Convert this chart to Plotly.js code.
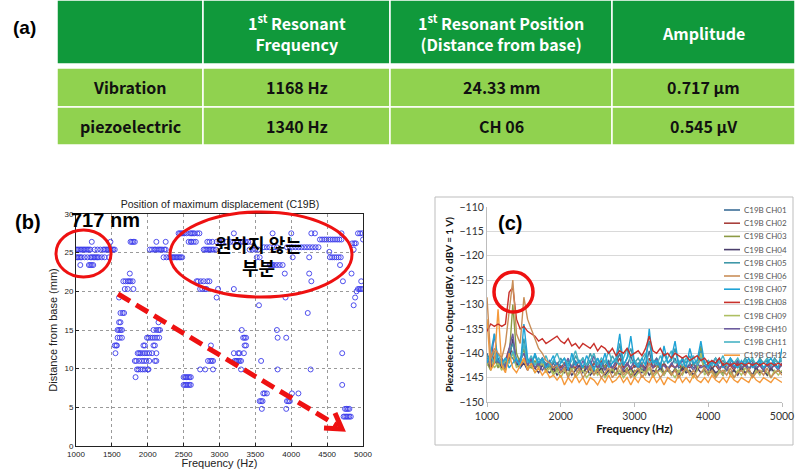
<!DOCTYPE html>
<html><head><meta charset="utf-8">
<script src="https://cdn.plot.ly/plotly-3.0.1.min.js"></script>
<style>html,body{margin:0;padding:0;background:#fff}#chart{width:797px;height:469px}</style>
</head><body><div id="chart"></div>
<script>
// ---------- (a) table values ----------
const tableHeader = ['', '1<sup>st</sup> Resonant<br>Frequency', '1<sup>st</sup> Resonant Position<br>(Distance from base)', 'Amplitude'];
const rowLabels = ['Vibration', 'piezoelectric'];
const resonantFreq = ['1168 Hz', '1340 Hz'];
const resonantPos = ['24.33 mm', 'CH 06'];
const amplitude = ['0.717 \u00b5m', '0.545 \u00b5V'];

// ---------- (b) scatter values: distance level -> frequencies ----------
const distLevelsB = [25.4, 24.4, 23.4, 26.4, 27.5, 25.7, 26.7, 25.1, 26.2, 22.3, 21.3, 20.3, 20.0, 19.2, 18.2, 17.2, 16.0, 15.0, 14.0, 13.0, 12.0, 11.0, 9.9, 8.9, 7.9, 6.8, 5.8, 4.8, 3.8];
const freqsB = [
  [1000,1020,1040,1060,1080,1100,1120,1140,1160,1180,1200,1260,1300,1340,1380,1400,1420,1440,1460,1480,1500,1520,1540,2030,2060,2090,2110,2140,2160,2180,2200,2230,2250,2780,2800,2820,2840,2860,2880,2900,2920,2950,3420,3460,3500,3540,4870],
  [1000,1020,1040,1060,1080,1120,1160,1200,1220,1240,1260,1280,1300,1320,1360,1400,1460,2220,2260,2300,2320,2340,2360,2380,2400,2420,2440,2460,2480,3520,3560,4020,4250,4540,4570,4600,4630,4660,4690],
  [1060,1180,1200,1220,1240,3700,3720,3740,3760,3800,3840,3880,4680],
  [1220,1480,1760,1780,1800,1820,2120,2250,2570,2600,2610,2640,2670,2830,2860,2900,2960,3000,3040,3100,3150,3190,3240,3260,3300,3330,3360,3400,3440],
  [2430,2450,2470,2490,2510,2540,2590,2610,2630,2650,2690,2720,3200,3740,4000,4280,4330,4700,4930,4960,4990],
  [3620,3660,3700,3760,3800,3940,3980,4020,4060,4100,4140,4180,4220,4260,4300,4340,4380],
  [4400,4430,4460,4490,4520,4550,4580,4610,4640,4670,4700,5000],
  [4530],
  [4850,4880,4900],
  [1750,3910,4250,4840],
  [1660,1690,1720,1740,1760,1790,2680,2700,2740,2780,2830,2860,4280,4720,4975],
  [1680,1720,1800,2730,2760,2800,2820,2980,3200,4930,4950,4970,4990],
  [4910],
  [1600,2960,3920,4890],
  [3550,4870],
  [1620,1650,1670,4230],
  [1600,1620,2150],
  [1580,1600,1620,1640,2080,2120,2150,2170,3310,3800],
  [1580,1610,1640,1990,2010,2040,2070,2100,2130,2160,3330,3350,3370,3810,3930],
  [1540,1560,1570,1940,1960,2080,2100,2880,3350,3370],
  [1550,1860,1880,1900,1930,1960,1990,2020,2060,2120,3200,3260,3280,3340,4710],
  [1820,1840,1880,1920,1950,1980,2020,2100,2120,2840,2870,2890,2910,3210,3230,3240,3260,3280,3300,3580],
  [1850,1870,1900,1930,1960,2000,2010,2730,2800,2910,3300,3810,4270],
  [1830,2500,2520,2540,2560,2580,2600],
  [2500,2520,2540,2560,2580,2600,4710],
  [3610,3630,3660,4010,4100],
  [3560,3580,3600,3940,3960,3980],
  [3590,3930,4750,4770,4790,4810],
  [4730,4750,4770,4790,4810,4830]
];

// ---------- (c) piezoelectric spectra ----------
const freqC = [1000,1050,1100,1150,1200,1250,1300,1350,1400,1450,1500,1550,1600,1650,1700,1750,1800,1850,1900,1950,
  2000,2050,2100,2150,2200,2250,2300,2350,2400,2450,2500,2550,2600,2650,2700,2750,2800,2850,2900,2950,
  3000,3050,3100,3150,3200,3250,3300,3350,3400,3450,3500,3550,3600,3650,3700,3750,3800,3850,3900,3950,
  4000,4050,4100,4150,4200,4250,4300,4350,4400,4450,4500,4550,4600,4650,4700,4750,4800,4850,4900,4950,5000];
const legendNames = ['C19B CH01','C19B CH02','C19B CH03','C19B CH04','C19B CH05','C19B CH06','C19B CH07','C19B CH08','C19B CH09','C19B CH10','C19B CH11','C19B CH12'];
const seriesColors = ['#3c6f98','#a8403c','#8c9a44','#4a3e6c','#3f98a8','#c98e58','#1fa3d6','#c8302a','#aebf62','#6c5c9e','#47b3c4','#f59a3c'];
const ch01 = [-140,-142,-141,-142.5,-141.5,-142,-140.5,-141,-142.5,-141,-140,-142,-141.5,-143,-142,-141,-142.5,-143,-142,-143.5,-142.5,-143.5,-142,-143,-141.5,-143.5,-142.5,-143,-141.5,-143,-142,-143.5,-142.5,-141.5,-143,-142,-140,-143,-142.5,-140.5,-143,-142,-143.5,-142.5,-139.5,-143,-142,-143.5,-142,-143,-142.5,-141,-143,-142.5,-143.5,-142,-143,-142.5,-141,-143,-142.5,-143.5,-142,-143,-142.5,-143.5,-142,-143,-142.5,-143.5,-142,-143,-142.5,-143.5,-142,-143,-142.5,-143.5,-142,-143,-142.5];
const ch02 = [-141,-143,-140.5,-142,-143,-141.5,-139,-140,-142,-143,-141,-142.5,-141,-143,-142.5,-141,-143,-142,-143.5,-142,-143,-142,-143.5,-142.5,-143,-141.5,-143,-142.5,-143.5,-142,-143,-141.5,-143,-142,-143.5,-142.5,-141,-143,-142,-143.5,-142.5,-143,-142,-143.5,-141,-143,-142.5,-143,-142,-143.5,-142.5,-143,-142,-143.5,-142.5,-143,-142,-143.5,-142.5,-143,-142,-143,-142.5,-143.5,-142,-143,-142.5,-143.5,-142,-143,-142.5,-143.5,-142,-143,-142.5,-143.5,-142,-143,-142.5,-143,-142];
const ch03 = [-142,-143.5,-141,-143,-142,-143.5,-141,-130,-140,-142,-139,-142.5,-143,-141.5,-143,-142,-143.5,-142.5,-144,-143,-144,-143,-144.5,-142.5,-143.5,-144,-142.5,-144,-143,-144.5,-143,-144,-142.5,-144,-143.5,-144.5,-142,-144,-143,-144.5,-143.5,-144,-142.5,-144,-143,-144.5,-143,-142,-144,-143.5,-144.5,-143,-144,-142.5,-144,-143.5,-144.5,-143,-138.5,-143.5,-144,-143,-144.5,-143.5,-144,-143,-144.5,-143.5,-144,-142.5,-144,-143.5,-144.5,-143,-144,-143.5,-144.5,-143,-144,-143.5,-144];
const ch04 = [-141.5,-143,-142,-141,-143,-142,-141.5,-137,-142,-143,-142,-143.5,-142,-143,-144,-142.5,-143.5,-144,-143,-144.5,-143.5,-144,-143,-144.5,-143.5,-142.5,-144,-143,-144.5,-143.5,-144,-143,-144.5,-143.5,-144,-143,-144.5,-143.5,-144,-143,-144.5,-143.5,-144,-143,-144.5,-143.5,-144,-143,-144.5,-143,-144,-143.5,-144.5,-143,-144,-143.5,-144.5,-143,-144,-143.5,-144.5,-143,-144,-143.5,-144.5,-143,-144,-143.5,-144.5,-143,-144,-143.5,-144.5,-143,-144,-143.5,-144.5,-143,-144,-143.5,-144];
const ch05 = [-140.5,-142,-139.5,-142.5,-141,-142.5,-140,-138,-141.5,-142,-137,-141.5,-142,-140.5,-142.5,-141.5,-142,-143,-141.5,-142.5,-141,-142.5,-141.5,-143,-140.5,-142,-141,-142.5,-140,-142,-141,-143,-141.5,-142.5,-140.5,-142,-138,-142.5,-141,-139,-142,-141,-142.5,-140.5,-137.5,-142,-141,-142.5,-140,-142,-141.5,-139,-142.5,-141,-142,-140.5,-142.5,-141.5,-139.5,-142,-141.5,-142.5,-141,-142,-141.5,-142.5,-141,-142,-141.5,-142.5,-141,-142,-141.5,-142.5,-141,-142,-141.5,-142.5,-141,-142,-141.5];
const ch06 = [-128.5,-141,-139,-140,-141,-138,-132,-125,-136,-138,-128.5,-133,-135,-137,-139,-140,-141.5,-142,-143,-142.5,-144,-143,-145,-143.5,-144.5,-143,-145,-144,-142.5,-144.5,-143.5,-145,-144,-143,-145,-144,-142.5,-144.5,-143.5,-145,-144,-143,-145,-144,-142,-144.5,-143.5,-145,-144,-143,-144.5,-143.5,-145,-144,-143,-144.5,-143.5,-145,-144,-143,-144.5,-143.5,-145,-144,-143.5,-144.5,-143,-145,-144,-143.5,-144.5,-143,-145,-144,-143.5,-144.5,-143,-145,-144,-143.5,-144.5];
const ch07 = [-142,-140,-136,-141.5,-142,-141,-143,-142,-141,-143,-134,-141,-142.5,-140,-142,-141,-143,-142,-140.5,-143,-142,-141,-143.5,-140,-142.5,-141.5,-143,-140.5,-142,-143.5,-141,-142.5,-140,-143,-142,-141,-136,-142.5,-141,-136.5,-142,-143,-141,-142.5,-135,-142,-141.5,-143,-138.5,-142,-141,-137.5,-142.5,-141,-143,-139,-142,-141.5,-137.5,-142,-143,-141.5,-142.5,-141,-143,-142,-141,-142.5,-143,-141.5,-142.5,-141,-143,-142,-141.5,-143,-142,-141,-142.5,-143,-139];
const ch08 = [-135.5,-134,-134.5,-134,-134.5,-134,-127.5,-126.5,-133,-135,-134.5,-135.5,-136,-136.5,-137.5,-137,-138,-137.5,-137,-136.5,-137.5,-138,-137,-138.5,-138,-139,-138,-138.5,-139,-138,-139.5,-138.5,-139,-140,-139,-140.5,-139.5,-140,-139,-140.5,-140,-139.5,-140.5,-139,-136.5,-139.5,-140,-139,-140.5,-140,-141,-140,-140.5,-141,-140.5,-141.5,-141,-140.5,-141.5,-141,-142,-141.5,-142,-141,-142.5,-142,-142.5,-142,-142.5,-142,-142.5,-142,-142.5,-142,-142.5,-142,-142.5,-142,-142.5,-142,-142.5];
const ch09 = [-142.5,-141,-143,-142,-143.5,-141.5,-142,-140,-143,-142,-141.5,-143,-142.5,-144,-143,-142,-144,-143,-144.5,-143.5,-145,-143.5,-144.5,-143,-145,-144,-143.5,-145,-144,-143,-144.5,-143.5,-145,-144,-143,-144.5,-143.5,-145,-144,-143.5,-145,-144,-143.5,-144.5,-143,-145,-144,-143.5,-144.5,-143,-144,-145,-143.5,-144.5,-143,-144,-145,-143.5,-140,-144.5,-143.5,-144,-145,-143.5,-144.5,-143,-144,-145,-143.5,-144.5,-143,-144,-145,-143.5,-144.5,-143,-144,-145,-143.5,-144.5,-143.5];
const ch10 = [-141,-142.5,-136,-142,-141,-143,-139,-136,-142,-141.5,-140,-142.5,-141,-143,-142,-143.5,-142.5,-141.5,-143,-142,-143.5,-142.5,-141,-143,-142,-143.5,-141.5,-143,-142.5,-140.5,-143,-142,-143.5,-142,-143,-141.5,-142.5,-143.5,-142,-143,-141.5,-143,-142.5,-143.5,-142,-143,-141,-143,-142.5,-143.5,-142,-143,-142.5,-141.5,-143,-142.5,-143.5,-142,-143,-142.5,-143.5,-142,-141,-143,-142.5,-143.5,-142,-143,-141.5,-143,-142.5,-143.5,-142,-143,-142.5,-143.5,-142,-143,-142.5,-143.5,-142];
const ch11 = [-141.5,-140.5,-142,-140,-142.5,-141,-142,-139.5,-141.5,-142.5,-138,-142,-140.5,-142.5,-141,-142,-140.5,-142.5,-141.5,-140,-142,-141,-142.5,-141.5,-139.5,-142,-141,-142.5,-141.5,-140,-142.5,-141,-142,-139.5,-142,-141.5,-142.5,-141,-139,-142,-141.5,-142.5,-141,-140,-142,-141.5,-142.5,-140.5,-142,-141,-139.5,-142,-141.5,-142.5,-141,-142,-140.5,-142.5,-141,-142,-141.5,-142.5,-141,-142,-140.5,-142.5,-141.5,-142,-141,-142.5,-141.5,-142,-141,-142.5,-141.5,-142,-141,-142.5,-141.5,-142,-141];
const ch12 = [-133,-143.5,-142,-131,-142.5,-144,-140,-143,-144,-142.5,-141,-143.5,-142,-144,-143,-144.5,-143.5,-145,-144.5,-145.5,-144.5,-146.5,-145,-146,-144.5,-146,-145,-146.5,-145,-145.5,-146.5,-145,-146,-144.5,-146,-145.5,-144.5,-146,-145,-146.5,-145,-146,-144.5,-145.5,-146,-144.5,-146,-145,-146.5,-145,-145.5,-146,-144.5,-146,-145,-146,-144.5,-145.5,-146,-145,-146,-144.5,-145.5,-146,-145,-146,-144.5,-145.5,-146,-145,-145.5,-146,-144.5,-145.5,-146,-145,-145.5,-146,-145,-145.5,-146];
const seriesC = [ch01,ch02,ch03,ch04,ch05,ch06,ch07,ch08,ch09,ch10,ch11,ch12];

// ---------- helpers (pixel -> paper) ----------
const W = 797, H = 469;
const px = x => x / W;
const py = y => 1 - y / H;

// ---------- traces ----------
const bx = [], by = [];
distLevelsB.forEach((d, i) => freqsB[i].forEach(f => { bx.push(f); by.push(d); }));

const traces = [{
  type: 'scatter', mode: 'markers', x: bx, y: by, xaxis: 'x', yaxis: 'y',
  marker: {symbol: 'circle-open', size: 5, color: 'rgb(60,60,235)', line: {width: 0.9}},
  showlegend: false, hoverinfo: 'x+y'
}];
const drawOrder = [0,1,2,3,4,8,9,10,6,11,7,5];
drawOrder.forEach(k => traces.push({
  type: 'scatter', mode: 'lines', x: freqC, y: seriesC[k], name: legendNames[k],
  xaxis: 'x2', yaxis: 'y2', line: {color: seriesColors[k], width: 1.4}, showlegend: false
}));

// ---------- shapes & annotations ----------
const shapes = [], annotations = [];
const ann = (x, y, text, font, extra) => Object.assign({xref: 'paper', yref: 'paper', x: px(x), y: py(y),
  xanchor: 'center', yanchor: 'middle', text: text, showarrow: false, font: font}, extra || {});

// (a) table
const colEdges = [57, 203, 390, 612, 795];
const headerBand = [0, 64];
const rowBands = [[68, 107], [107, 145]];
const bodyCols = [rowLabels, resonantFreq, resonantPos, amplitude];
const tableFont = 'Noto Sans CJK KR, Noto Sans, sans-serif';
for (let c = 0; c < 4; c++) {
  const xc = (colEdges[c] + colEdges[c + 1]) / 2;
  shapes.push({type: 'rect', xref: 'paper', yref: 'paper', x0: px(colEdges[c]), x1: px(colEdges[c + 1]),
    y0: py(headerBand[1]), y1: py(headerBand[0]), fillcolor: '#10993b', line: {color: '#ffffff', width: 1.5}, layer: 'below'});
  if (tableHeader[c]) annotations.push(ann(xc, 33, tableHeader[c], {family: tableFont, size: 16, color: '#ffffff', weight: 'bold'}, {align: 'center'}));
  for (let r = 0; r < 2; r++) {
    shapes.push({type: 'rect', xref: 'paper', yref: 'paper', x0: px(colEdges[c]), x1: px(colEdges[c + 1]),
      y0: py(rowBands[r][1]), y1: py(rowBands[r][0]), fillcolor: '#90d24f', line: {color: '#ffffff', width: 1.5}, layer: 'below'});
    annotations.push(ann(xc, (rowBands[r][0] + rowBands[r][1]) / 2, bodyCols[c][r], {family: tableFont, size: 16, color: '#111111', weight: 'bold'}));
  }
}
const arial = 'Liberation Sans, Arial, sans-serif';
annotations.push(ann(24, 28, '(a)', {family: arial, size: 19, color: '#000', weight: 'bold'}));

// (b) decorations
annotations.push(ann(28, 222, '(b)', {family: arial, size: 20, color: '#000', weight: 'bold'}));
annotations.push(ann(106, 220, '717 nm', {family: arial, size: 20, color: '#000', weight: 'bold'}));
annotations.push(ann(258, 255, '원하지 않는<br>부분', {family: 'Noto Sans CJK KR, sans-serif', size: 18, color: '#000', weight: 'bold'}));
shapes.push({type: 'circle', xref: 'paper', yref: 'paper', x0: px(56), x1: px(111), y0: py(277), y1: py(230), line: {color: '#ee1111', width: 3}});
shapes.push({type: 'circle', xref: 'paper', yref: 'paper', x0: px(170), x1: px(352), y0: py(297), y1: py(212), line: {color: '#ee1111', width: 3}});
shapes.push({type: 'line', xref: 'paper', yref: 'paper', x0: px(118), y0: py(294), x1: px(338), y1: py(426), line: {color: '#ee1111', width: 5, dash: '14px,7px'}});
shapes.push({type: 'path', xref: 'paper', yref: 'paper', path: `M ${px(324)} ${py(428)} L ${px(342)} ${py(429)} L ${px(335)} ${py(413)}`, line: {color: '#ee1111', width: 5}});

// (c) decorations
shapes.push({type: 'rect', xref: 'paper', yref: 'paper', x0: px(435), x1: px(793), y0: py(445), y1: py(197), line: {color: '#bdbdbd', width: 1}, layer: 'below'});
annotations.push(ann(510, 223, '(c)', {family: arial, size: 20, color: '#000', weight: 'bold'}));
shapes.push({type: 'circle', xref: 'paper', yref: 'paper', x0: px(494), x1: px(533), y0: py(312), y1: py(272), line: {color: '#ee1111', width: 3.5}});
legendNames.forEach((n, i) => {
  const yy = 210 + i * 13.2;
  shapes.push({type: 'line', xref: 'paper', yref: 'paper', x0: px(724), x1: px(740), y0: py(yy), y1: py(yy), line: {color: seriesColors[i], width: 1.6}});
  annotations.push(ann(742, yy, n, {family: 'Lato, sans-serif', size: 8, color: '#555'}, {xanchor: 'left'}));
});

const layout = {
  width: W, height: H, margin: {l: 0, r: 0, t: 0, b: 0}, paper_bgcolor: '#fff', plot_bgcolor: '#fff', showlegend: false,
  title: {text: 'Position of maximum displacement (C19B)', x: px(220), y: py(204), xanchor: 'center', yanchor: 'middle',
    font: {family: arial, size: 10.5, color: '#222'}},
  xaxis: {domain: [px(76), px(363)], range: [1000, 5000], dtick: 500, anchor: 'y',
    showline: true, mirror: true, linecolor: '#222', linewidth: 1, ticks: 'inside', ticklen: 3, tickcolor: '#222',
    showgrid: true, gridcolor: '#9a9a9a', griddash: 'dot', zeroline: false,
    tickfont: {family: arial, size: 8, color: '#222'},
    title: {text: 'Frequency (Hz)', standoff: 0, font: {family: arial, size: 11, color: '#222'}}},
  yaxis: {domain: [py(446), py(214)], range: [0, 30], dtick: 5, anchor: 'x',
    showline: true, mirror: true, linecolor: '#222', linewidth: 1, ticks: 'inside', ticklen: 3, tickcolor: '#222',
    showgrid: true, gridcolor: '#9a9a9a', griddash: 'dot', zeroline: false,
    tickfont: {family: arial, size: 8, color: '#222'},
    title: {text: 'Distance from base (mm)', standoff: 4, font: {family: arial, size: 11, color: '#222'}}},
  xaxis2: {domain: [px(487), px(782)], range: [1000, 5000], tickvals: [1000, 2000, 3000, 4000, 5000], anchor: 'y2',
    showline: true, linecolor: '#bdbdbd', linewidth: 1, ticks: 'outside', ticklen: 4, tickcolor: '#bdbdbd',
    showgrid: false, zeroline: false,
    tickfont: {family: 'Lato, sans-serif', size: 10.5, color: '#333'},
    title: {text: 'Frequency (Hz)', standoff: 4, font: {family: 'Lato, sans-serif', size: 11.5, color: '#111', weight: 'bold'}}},
  yaxis2: {domain: [py(402), py(207)], range: [-150, -110], dtick: 5, anchor: 'x2',
    showline: true, linecolor: '#bdbdbd', linewidth: 1, ticks: '',
    showgrid: true, gridcolor: '#d9d9d9', zeroline: false,
    tickfont: {family: 'Lato, sans-serif', size: 10.5, color: '#333'},
    title: {text: 'Piezoelectric Output (dBV, 0 dBV = 1 V)', standoff: 4, font: {family: 'Lato, sans-serif', size: 10, color: '#111', weight: 'bold'}}},
  shapes: shapes, annotations: annotations
};

Plotly.newPlot('chart', traces, layout, {displayModeBar: false, staticPlot: true});
</script></body></html>
